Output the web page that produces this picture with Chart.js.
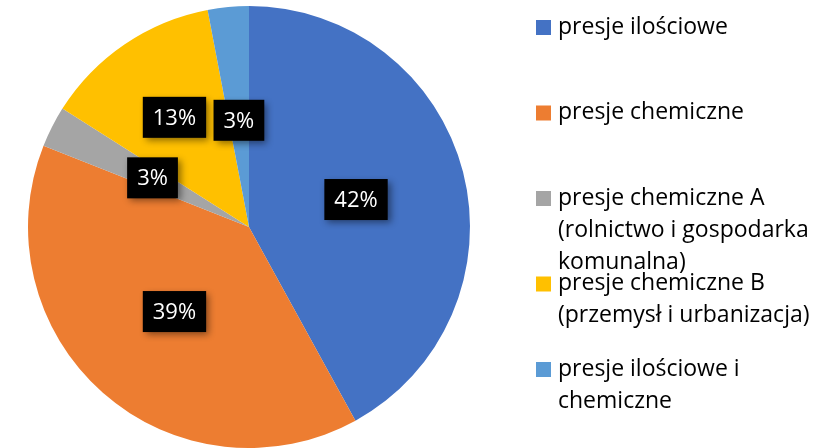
<!DOCTYPE html>
<html>
<head>
<meta charset="utf-8">
<script src="https://cdn.jsdelivr.net/npm/chart.js@4"></script>
<style>
    html, body { margin: 0; padding: 0; background: #fff; }
    #wrap { position: relative; width: 819px; height: 448px; }
</style>
</head>
<body>
<div id="wrap"><canvas id="chart" width="819" height="448"></canvas></div>
<script>
const categories = [
    ['presje ilościowe'],
    ['presje chemiczne'],
    ['presje chemiczne A', '(rolnictwo i gospodarka', 'komunalna)'],
    ['presje chemiczne B', '(przemysł i urbanizacja)'],
    ['presje ilościowe i', 'chemiczne']
];
const shares = [42, 39, 3, 13, 3];
const colors = ['#4472C4', '#ED7D31', '#A5A5A5', '#FFC000', '#5B9BD5'];

const FONT = '"Open Sans", "Noto Sans", sans-serif';

// black boxes with the percentage, like Excel data callouts
const boxLabels = {
    id: 'boxLabels',
    afterDatasetsDraw(chart, args, opts) {
        const ctx = chart.ctx;
        const meta = chart.getDatasetMeta(0);
        ctx.save();
        ctx.font = opts.size + 'px ' + FONT;
        ctx.textAlign = 'center';
        ctx.textBaseline = 'middle';
        meta.data.forEach((arc, i) => {
            const mid = (arc.startAngle + arc.endAngle) / 2;
            const r = arc.outerRadius * (opts.radius[i] || 0.5);
            const x = arc.x + Math.cos(mid) * r;
            const y = arc.y + Math.sin(mid) * r;
            const txt = shares[i] + '%';
            const w = ctx.measureText(txt).width + 20;
            const h = 41;
            ctx.save();
            ctx.shadowColor = 'rgba(0,0,0,0.45)';
            ctx.shadowBlur = 7;
            ctx.shadowOffsetX = 3;
            ctx.shadowOffsetY = 3;
            ctx.fillStyle = '#000';
            ctx.fillRect(x - w / 2, y - h / 2, w, h);
            ctx.restore();
            ctx.fillStyle = '#fff';
            ctx.fillText(txt, x, y + 1);
        });
        ctx.restore();
    }
};

// legend on the right, lines may run into the next item like in the original
const sideLegend = {
    id: 'sideLegend',
    afterDraw(chart, args, opts) {
        const ctx = chart.ctx;
        ctx.save();
        ctx.font = opts.size + 'px ' + FONT;
        ctx.textBaseline = 'middle';
        categories.forEach((lines, i) => {
            const y = opts.top + i * opts.step;
            ctx.fillStyle = colors[i];
            ctx.fillRect(opts.left, y - 7, 15, 15);
            ctx.fillStyle = '#000';
            lines.forEach((line, j) => {
                ctx.fillText(line, opts.left + 22, y + j * opts.lineHeight);
            });
        });
        ctx.restore();
    }
};

new Chart(document.getElementById('chart'), {
    type: 'pie',
    data: {
        labels: categories.map(l => l.join(' ')),
        datasets: [{
            data: shares,
            backgroundColor: colors,
            borderWidth: 0
        }]
    },
    options: {
        responsive: false,
        animation: false,
        layout: { padding: { left: 28, top: 6, right: 349, bottom: 0 } },
        plugins: {
            legend: { display: false },
            tooltip: { enabled: false },
            boxLabels: { size: 22, radius: [0.5, 0.51, 0.49, 0.6, 0.485] },
            sideLegend: { left: 536, top: 27, step: 85.5, lineHeight: 32, size: 23 }
        }
    },
    plugins: [boxLabels, sideLegend]
});
</script>
</body>
</html>
